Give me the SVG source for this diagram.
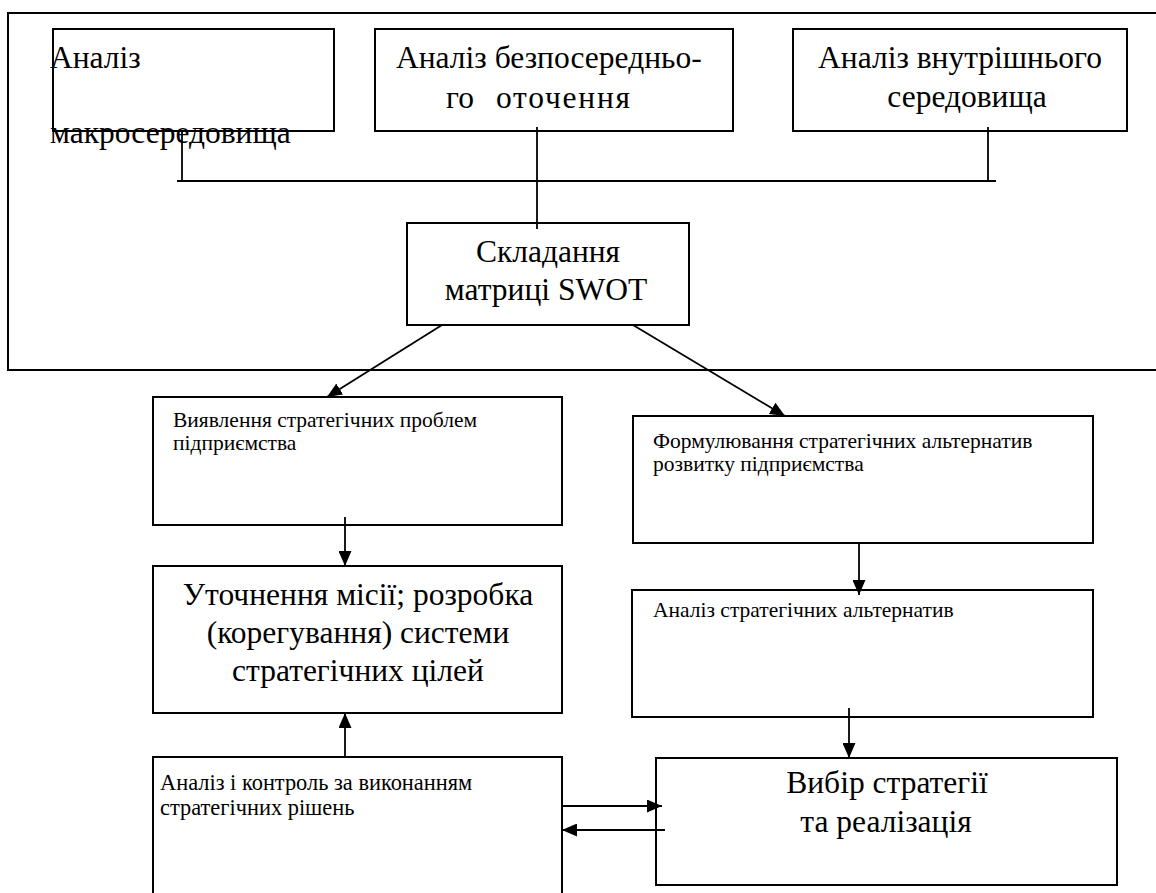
<svg xmlns="http://www.w3.org/2000/svg" width="1156" height="893" viewBox="0 0 1156 893" font-family="'Liberation Serif', 'Times New Roman', 'DejaVu Serif', serif">
  <defs>
    <marker id="arrow" viewBox="0 0 15 13" refX="15" refY="6.5" markerWidth="15" markerHeight="13" markerUnits="userSpaceOnUse" orient="auto">
      <path d="M0,0 L15,6.5 L0,13 z" fill="#000"/>
    </marker>
    <style>
      .box { fill: #fff; stroke: #000; stroke-width: 2; }
      .frame { fill: none; stroke: #000; stroke-width: 2; }
      .line { fill: none; stroke: #000; stroke-width: 1.8; }
      .arr { fill: none; stroke: #000; stroke-width: 1.8; marker-end: url(#arrow); }
      .big { font-size: 31.5px; }
      .small { font-size: 21.5px; }
      .mid { text-anchor: middle; }
    </style>
  </defs>

  <!-- outer frame around the analysis stage; its right side runs off the sheet -->
  <rect id="frame" class="frame" x="8" y="13" width="1170" height="357"/>

  <g id="macro">
    <rect class="box" x="53" y="29" width="281" height="102"/>
    <text class="big" x="50" y="68">Аналіз</text>
    <text class="big" x="50" y="143">макросередовища</text>
  </g>

  <g id="direct-env">
    <rect class="box" x="375" y="29" width="358" height="102"/>
    <text class="big" x="396" y="68">Аналіз безпосередньо-</text>
    <text class="big" x="446" y="108">го</text>
    <text class="big" x="496" y="108" textLength="134" lengthAdjust="spacing">оточення</text>
  </g>

  <g id="internal-env">
    <rect class="box" x="793" y="29" width="334" height="102"/>
    <text class="big mid" x="960" y="68">Аналіз внутрішнього</text>
    <text class="big mid" x="967" y="107">середовища</text>
  </g>

  <g id="swot">
    <rect class="box" x="407" y="223" width="282" height="102"/>
    <text class="big mid" x="548" y="262">Складання</text>
    <text class="big mid" x="546" y="300">матриці SWOT</text>
  </g>

  <g id="problems">
    <rect class="box" x="153" y="397" width="409" height="128"/>
    <text class="small" x="173" y="427">Виявлення стратегічних проблем</text>
    <text class="small" x="173" y="450">підприємства</text>
  </g>

  <g id="mission">
    <rect class="box" x="153" y="566" width="409" height="147"/>
    <text class="big mid" x="358" y="605">Уточнення місії; розробка</text>
    <text class="big mid" x="358" y="643">(корегування) системи</text>
    <text class="big mid" x="358" y="681">стратегічних цілей</text>
  </g>

  <g id="control">
    <path class="box" d="M153,900 V757 H562 V900"/>
    <text x="160" y="790" style="font-size:22.4px">Аналіз і контроль за виконанням</text>
    <text x="160" y="815" style="font-size:22.4px">стратегічних рішень</text>
  </g>

  <g id="alternatives">
    <rect class="box" x="633" y="416" width="460" height="127"/>
    <text class="small" x="653" y="448">Формулювання стратегічних альтернатив</text>
    <text class="small" x="653" y="471">розвитку підприємства</text>
  </g>

  <g id="alt-analysis">
    <rect class="box" x="632" y="590" width="461" height="127"/>
    <text class="small" x="653" y="617">Аналіз стратегічних альтернатив</text>
  </g>

  <g id="choice">
    <rect class="box" x="656" y="758" width="461" height="127"/>
    <text class="big mid" x="887" y="793">Вибір стратегії</text>
    <text class="big mid" x="886" y="832">та реалізація</text>
  </g>

  <g id="connectors">
    <line class="line" x1="182" y1="131" x2="182" y2="181"/>
    <line class="line" x1="988" y1="127" x2="988" y2="181"/>
    <line class="line" x1="177" y1="181" x2="996" y2="181"/>
    <line class="line" x1="537" y1="127" x2="537" y2="229"/>
    <line class="arr" x1="442" y1="325" x2="327" y2="397"/>
    <line class="arr" x1="633" y1="325" x2="785" y2="416"/>
    <line class="arr" x1="345" y1="517" x2="345" y2="566"/>
    <line class="arr" x1="345" y1="757" x2="345" y2="713"/>
    <line class="arr" x1="859" y1="543" x2="859" y2="595"/>
    <line class="arr" x1="849" y1="708" x2="849" y2="758"/>
    <line class="arr" x1="562" y1="806" x2="662" y2="806"/>
    <line class="arr" x1="665" y1="830" x2="562" y2="830"/>
  </g>
</svg>
